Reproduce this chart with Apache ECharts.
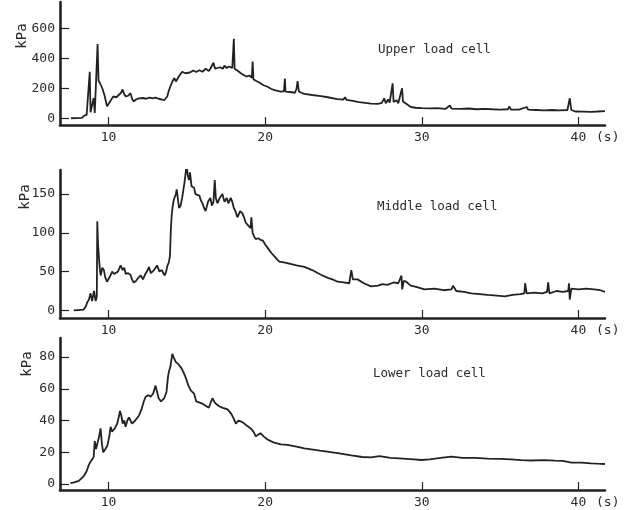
<!DOCTYPE html>
<html>
<head>
<meta charset="utf-8">
<script src="https://cdn.jsdelivr.net/npm/echarts@6/dist/echarts.min.js"></script>
<style>
html,body{margin:0;padding:0;background:#fff;}
#c{width:628px;height:510px;}
</style>
</head>
<body>
<div id="c"></div>
<script>
// ---- data (time in s, pressure in kPa) ----
var upperT = [7.6,8.3,8.45,8.6,8.7,8.8,8.85,8.95,9.05,9.12,9.22,9.3,9.36,9.45,9.6,9.75,9.9,10.0,10.1,10.3,10.5,10.65,10.8,10.9,11.0,11.1,11.25,11.4,11.5,11.6,11.75,11.95,12.2,12.4,12.6,12.8,13.0,13.2,13.4,13.55,13.75,13.85,13.95,14.1,14.2,14.3,14.4,14.5,14.6,14.7,14.8,14.9,15.0,15.2,15.4,15.6,15.8,16.0,16.2,16.4,16.5,16.7,16.8,16.9,17.1,17.3,17.4,17.55,17.7,17.9,18.0,18.05,18.2,18.45,18.6,18.8,19.0,19.15,19.2,19.25,19.4,19.6,19.7,19.9,20.15,20.4,20.6,20.8,21.0,21.2,21.26,21.3,21.6,21.9,22.0,22.07,22.15,22.3,22.5,23.0,23.56,24.0,24.6,25.0,25.1,25.2,25.5,26.0,26.76,27.2,27.45,27.6,27.7,27.85,27.95,28.14,28.2,28.4,28.5,28.74,28.8,28.9,29.1,29.3,29.6,30.0,30.5,31.0,31.5,31.8,31.9,32.5,33.0,33.5,34.0,34.5,35.0,35.5,35.6,35.7,36.2,36.7,36.8,37.3,37.8,38.3,38.8,39.3,39.45,39.55,39.8,40.3,40.8,41.2,41.7];
var upperKPa = [0,2,18,22,28,310,40,30,135,35,40,495,250,235,200,150,80,95,112,145,140,155,170,192,160,145,150,167,130,112,125,133,135,130,138,132,138,130,125,120,145,185,212,250,268,245,255,280,290,310,322,300,312,305,318,308,320,310,330,315,330,370,330,322,340,330,350,335,345,335,530,330,320,300,290,278,285,270,378,260,250,240,233,220,210,195,188,182,178,180,265,178,175,170,195,248,180,170,162,155,148,140,127,125,140,122,117,108,98,96,102,133,100,125,105,233,108,120,100,200,112,105,90,75,70,68,66,67,62,85,64,62,65,60,63,60,58,60,78,58,57,75,57,55,53,55,52,55,133,55,45,44,43,45,48];

var middleT = [7.78,8.4,8.55,8.63,8.75,8.85,8.95,9.07,9.18,9.25,9.28,9.33,9.38,9.45,9.5,9.6,9.7,9.8,9.9,10.05,10.23,10.35,10.45,10.6,10.77,10.9,11.0,11.1,11.25,11.4,11.5,11.6,11.75,11.9,12.05,12.2,12.35,12.5,12.58,12.7,12.9,13.0,13.1,13.25,13.4,13.58,13.68,13.75,13.85,13.92,13.98,14.03,14.1,14.17,14.3,14.35,14.42,14.5,14.6,14.7,14.85,14.99,15.05,15.13,15.2,15.3,15.46,15.55,15.67,15.8,15.89,16.0,16.1,16.2,16.35,16.5,16.6,16.7,16.78,16.85,16.95,17.1,17.27,17.4,17.55,17.65,17.8,17.9,18.0,18.1,18.23,18.4,18.55,18.65,18.76,18.9,19.07,19.12,19.2,19.3,19.4,19.55,19.7,19.85,20.0,20.25,20.4,20.58,20.75,20.9,21.2,21.6,22.0,22.5,23.0,23.56,24.0,24.3,24.63,25.0,25.37,25.5,25.6,25.9,26.3,26.76,27.2,27.5,27.8,28.2,28.5,28.7,28.75,28.85,29.0,29.3,29.7,30.17,30.8,31.4,31.9,32.0,32.2,32.7,33.16,33.7,34.2,34.8,35.3,35.8,36.3,36.55,36.6,36.7,37.2,37.7,38.0,38.07,38.15,38.6,39.0,39.35,39.4,39.45,39.55,40.0,40.5,41.0,41.4,41.7];
var middleKPa = [0,1,5,10,14,22,12,25,12,18,115,85,70,52,45,55,52,42,37,42,50,47,45,50,58,52,55,47,48,46,40,36,38,42,45,40,47,52,56,48,52,55,58,50,52,45,50,57,62,70,105,122,135,143,150,156,145,132,135,145,165,188,175,168,178,160,158,150,151,148,142,138,132,128,140,145,135,140,168,145,138,145,150,140,145,138,145,140,132,128,120,128,125,120,113,110,106,120,100,95,92,93,91,90,85,78,74,70,66,63,62,60,58,56,52,46,42,40,37,36,35,52,40,40,35,31,32,34,33,36,35,45,27,38,37,32,30,27,28,26,27,32,25,24,22,21,20,19,18,20,21,22,35,22,23,22,24,36,22,25,24,25,35,14,28,27,28,27,26,24];

var lowerT = [7.57,7.8,8.1,8.42,8.6,8.74,8.85,8.95,9.05,9.12,9.2,9.32,9.4,9.49,9.58,9.66,9.8,9.92,10.05,10.13,10.22,10.3,10.4,10.55,10.65,10.73,10.82,10.9,11.0,11.09,11.2,11.3,11.4,11.5,11.7,11.94,12.1,12.25,12.37,12.55,12.69,12.85,13.0,13.1,13.2,13.35,13.44,13.55,13.7,13.8,13.86,13.95,14.07,14.15,14.29,14.4,14.5,14.65,14.8,14.93,15.1,15.25,15.46,15.6,15.67,15.9,16.1,16.25,16.4,16.55,16.64,16.8,17.06,17.3,17.6,17.85,18.0,18.13,18.3,18.55,18.8,19.08,19.25,19.4,19.55,19.7,19.9,20.15,20.36,20.58,21.0,21.43,22.0,22.5,23.5,24.63,25.5,26.2,26.76,27.3,28.0,28.8,29.5,29.96,30.5,31.2,31.9,32.6,33.4,34.2,35.0,35.7,36.36,37.0,37.8,38.5,39.0,39.56,40.2,40.8,41.2,41.7];
var lowerKPa = [0.5,1,2,5,8,12,14,13,17,27,22,21,30,35,25,20,22,24,30,36,33,32,35,38,42,46,43,38,40,36,40,42,40,38,40,43,47,52,55,56,55,57,62,58,54,52,51,54,58,68,71,74,82,80,77,77,75,73,70,67,62,59,57,52,51,51,50,49,48,52,54,51,49,48,47,44,41,38,40,39,37,35,33,30,31,32,30,28,27,26,25,24.6,23.5,22.5,21,19.4,18,17,16.8,17.5,16.5,16,15.5,15.1,15.5,16.5,17.2,16.5,16.5,16,15.8,15.5,15,14.8,15,14.7,14.5,13.4,13.4,13,12.8,12.6];

var xTicks = [10, 20, 30, 40];
var upperTicks = [0, 200, 400, 600];
var middleTicks = [0, 50, 100, 150];
var lowerTicks = [0, 20, 40, 60, 80];
var panelTitles = ['Upper load cell', 'Middle load cell', 'Lower load cell'];
var unitY = 'kPa';
var unitX = '(s)';

function zip(a, b) { return a.map(function (v, i) { return [v, b[i]]; }); }

var FONT = 'DejaVu Sans Mono';
var INK = '#222';
var TXT = '#2b2b2b';

var grids = [
  { left: 60, width: 545, top: 2, height: 123 },
  { left: 60, width: 545, top: 170, height: 148 },
  { left: 60, width: 545, top: 338, height: 152 }
];
var yRanges = [[-45, 775], [-9.8, 181], [-3.8, 92]];
var yTickSets = [upperTicks, middleTicks, lowerTicks];

var xAxes = [], yAxes = [];
for (var i = 0; i < 3; i++) {
  xAxes.push({
    type: 'value', gridIndex: i, min: 6.9, max: 41.7,
    name: unitX, nameLocation: 'end', nameGap: -9,
    nameTextStyle: { fontFamily: FONT, fontSize: 13, color: TXT, verticalAlign: 'top', padding: [6, 0, 0, 0] },
    axisLine: { onZero: false, lineStyle: { color: INK, width: 2.6 } },
    axisTick: { inside: true, length: 8, customValues: xTicks, lineStyle: { color: INK, width: 1.2 } },
    axisLabel: { customValues: xTicks, margin: 6, fontFamily: FONT, fontSize: 13, color: TXT },
    splitLine: { show: false }
  });
  yAxes.push({
    type: 'value', gridIndex: i, min: yRanges[i][0], max: yRanges[i][1],
    axisLine: { show: true, onZero: false, lineStyle: { color: INK, width: 2.6 } },
    axisTick: { show: true, inside: true, length: 9, customValues: yTickSets[i], lineStyle: { color: INK, width: 1.2 } },
    axisLabel: { customValues: yTickSets[i], margin: 5, fontFamily: FONT, fontSize: 13, color: TXT },
    splitLine: { show: false }
  });
}

var lineStyle = { color: INK, width: 1.8 };
var series = [
  { type: 'line', xAxisIndex: 0, yAxisIndex: 0, data: zip(upperT, upperKPa), showSymbol: false, lineStyle: lineStyle },
  { type: 'line', xAxisIndex: 1, yAxisIndex: 1, data: zip(middleT, middleKPa), showSymbol: false, lineStyle: lineStyle },
  { type: 'line', xAxisIndex: 2, yAxisIndex: 2, data: zip(lowerT, lowerKPa), showSymbol: false, lineStyle: lineStyle }
];

var titleStyle = { fontFamily: FONT, fontSize: 12.5, fontWeight: 'normal', color: TXT };
var titles = [
  { text: panelTitles[0], left: 378, top: 43, padding: 0, textStyle: titleStyle },
  { text: panelTitles[1], left: 377, top: 200, padding: 0, textStyle: titleStyle },
  { text: panelTitles[2], left: 373, top: 367, padding: 0, textStyle: titleStyle }
];

function kpaText(x, y) {
  return { type: 'text', x: x, y: y, rotation: Math.PI / 2,
    style: { text: unitY, fontFamily: FONT, fontSize: 14, fill: TXT, align: 'center', verticalAlign: 'middle' } };
}

var chart = echarts.init(document.getElementById('c'), null, { renderer: 'canvas' });
chart.setOption({
  animation: false,
  backgroundColor: '#fff',
  title: titles,
  grid: grids,
  xAxis: xAxes,
  yAxis: yAxes,
  series: series,
  graphic: [kpaText(22, 36), kpaText(25, 197), kpaText(27, 364)]
});
</script>
</body>
</html>
